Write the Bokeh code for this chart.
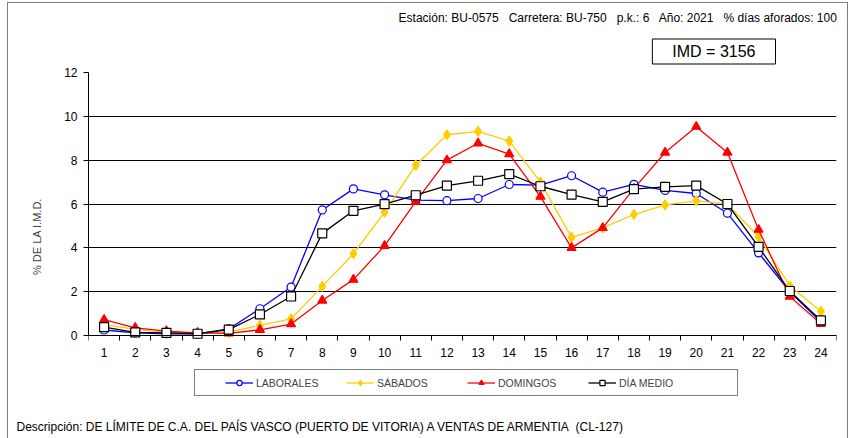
from bokeh.plotting import figure
from bokeh.models import Range1d, FixedTicker, Legend, LegendItem, Title
from bokeh.embed import file_html
from bokeh.resources import INLINE

hours = [1, 2, 3, 4, 5, 6, 7, 8, 9, 10, 11, 12, 13, 14, 15, 16, 17, 18, 19, 20, 21, 22, 23, 24]
laborales = [0.25, 0.12, 0.08, 0.07, 0.30, 1.22, 2.21, 5.73, 6.69, 6.42, 6.18, 6.15, 6.25, 6.89, 6.86, 7.29, 6.54, 6.90, 6.62, 6.48, 5.58, 3.77, 2.00, 0.61]
sabados = [0.50, 0.28, 0.15, 0.10, 0.15, 0.46, 0.76, 2.24, 3.73, 5.63, 7.77, 9.16, 9.31, 8.87, 7.00, 4.48, 4.91, 5.52, 5.96, 6.14, 6.00, 4.50, 2.27, 1.10]
domingos = [0.72, 0.35, 0.20, 0.12, 0.10, 0.26, 0.52, 1.60, 2.55, 4.09, 6.11, 8.00, 8.77, 8.28, 6.34, 4.00, 4.91, 6.70, 8.35, 9.53, 8.35, 4.83, 1.78, 0.53]
dia_medio = [0.38, 0.14, 0.12, 0.08, 0.27, 0.96, 1.78, 4.66, 5.69, 5.99, 6.40, 6.84, 7.06, 7.36, 6.81, 6.43, 6.10, 6.68, 6.78, 6.84, 6.00, 4.04, 2.03, 0.69]
y_ticks = [0, 2, 4, 6, 8, 10, 12]
series_names = ["LABORALES", "SÁBADOS", "DOMINGOS", "DÍA MEDIO"]
y_title = "% DE LA I.M.D."
info_text = "Estación: BU-0575\u00a0\u00a0 Carretera: BU-750\u00a0\u00a0 p.k.: 6\u00a0\u00a0 Año: 2021\u00a0\u00a0 % días aforados: 100"
imd_text = "IMD = 3156"
desc_text = "Descripción: DE LÍMITE DE C.A. DEL PAÍS VASCO (PUERTO DE VITORIA) A VENTAS DE ARMENTIA\u00a0 (CL-127)"

FONT = "Liberation Sans"

# layout: chart area 263 px tall for 0..12; frame extended downward to hold the legend
CHART_H = 263
FRAME_H = 328
Y_MIN, Y_MAX = 0, 12
y_start = Y_MAX - (Y_MAX - Y_MIN) * FRAME_H / CHART_H

p = figure(frame_width=748, frame_height=FRAME_H, output_backend="svg", toolbar_location=None,
           x_range=Range1d(0.5, 24.5), y_range=Range1d(y_start, Y_MAX),
           min_border_left=80, min_border_right=11, min_border_top=0, min_border_bottom=0)
p.outline_line_color = None
p.styles = {"margin-left": "7px", "margin-top": "2px", "border": "1px solid #808080"}

# axes
p.xaxis.fixed_location = 0
p.xaxis.ticker = FixedTicker(ticks=hours, minor_ticks=[h - 0.5 for h in hours] + [hours[-1] + 0.5])
p.xaxis.major_label_overrides = {h: str(h) for h in hours}
p.xaxis.major_tick_out = 0
p.xaxis.major_tick_in = 0
p.xaxis.minor_tick_out = 5
p.xaxis.minor_tick_in = 0
p.xaxis.major_label_standoff = 7
p.yaxis.ticker = FixedTicker(ticks=y_ticks)
p.yaxis.bounds = (Y_MIN, Y_MAX)
p.yaxis.major_tick_out = 5
p.yaxis.major_tick_in = 0
p.yaxis.minor_tick_line_color = None
p.yaxis.major_label_standoff = 6
p.yaxis.axis_label = y_title
p.yaxis.axis_label_standoff = 18
p.yaxis.axis_label_text_font_style = "normal"
p.yaxis.axis_label_text_font_size = "11px"
p.yaxis.axis_label_text_font = FONT
for ax in (p.xaxis, p.yaxis):
    ax.axis_line_color = "black"
    ax.major_tick_line_color = "black"
    ax.major_label_text_font = FONT
    ax.major_label_text_font_size = "12px"
    ax.major_label_text_color = "black"
p.xaxis.minor_tick_line_color = "black"
p.xgrid.grid_line_color = None
p.ygrid.grid_line_color = "black"
p.ygrid.grid_line_width = 1

styles = [
    (laborales, "#0000FF", "circle", "white", 8),
    (sabados, "#FFCC00", "diamond", "#FFCC00", 10),
    (domingos, "#FF0000", "triangle", "#FF0000", 9),
    (dia_medio, "black", "square", "white", 9),
]
items = []
for name, (vals, col, mk, fill, sz) in zip(series_names, styles):
    ln = p.line(hours, vals, line_color=col, line_width=1.3)
    sc = p.scatter(hours, vals, marker=mk, size=sz, line_color=col, fill_color=fill, line_width=1.2)
    items.append(LegendItem(label=name, renderers=[ln, sc]))

legend = Legend(items=items, orientation="horizontal", location=(106, 4),
                border_line_color="black", border_line_width=1,
                background_fill_color="white", background_fill_alpha=1,
                label_text_font=FONT, label_text_font_size="10.5px",
                glyph_width=28, glyph_height=13, label_height=13, label_width=88,
                label_standoff=3, spacing=2, margin=0)
try:
    legend.padding = {"x": 30, "y": 6}
except Exception:
    legend.padding = 6
p.add_layout(legend, "center")

desc = Title(text=desc_text, align="left", offset=-72, text_font=FONT,
             text_font_size="12px", text_font_style="normal", text_color="black",
             standoff=17)
try:
    desc.padding = {"left": 0, "right": 0, "top": 9, "bottom": 0}
except Exception:
    desc.standoff = 26
p.add_layout(desc, "below")

imd = Title(text=imd_text, align="right", offset=61, text_font=FONT,
            text_font_size="16px", text_font_style="normal", text_color="black",
            standoff=17)
imd.border_line_color = "black"
imd.background_fill_color = "white"
try:
    imd.padding = {"x": 20, "y": 4}
except Exception:
    imd.padding = 4
p.add_layout(imd, "above")

info = Title(text=info_text, align="right", offset=-1, text_font=FONT,
             text_font_size="12px", text_font_style="normal", text_color="black",
             standoff=8)
try:
    info.padding = {"left": 0, "right": 0, "top": 1, "bottom": 0}
except Exception:
    pass
p.add_layout(info, "above")

open("out.html", "w").write(file_html(p, INLINE))
